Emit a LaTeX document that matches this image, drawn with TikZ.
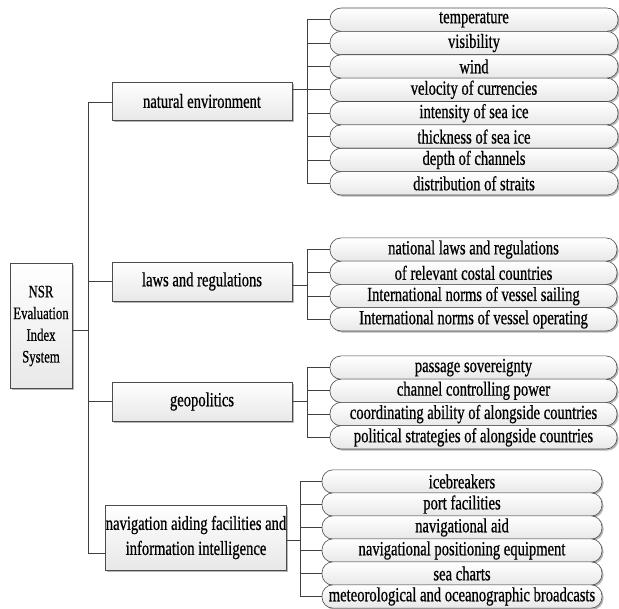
\documentclass[tikz,border=0pt]{standalone}
\usepackage{fontspec}
\setmainfont{Liberation Serif}[FakeStretch=0.73,FakeBold=0.6]
\usetikzlibrary{shadows}
\begin{document}
\begin{tikzpicture}[x=1pt,y=-1pt,
  shade/.style={draw=black!70, line width=0.6pt, top color=white, bottom color=black!9,
    drop shadow={shadow xshift=1.5pt, shadow yshift=-1.6pt, fill=black!40, opacity=0.7}},
  mainbox/.style={shade, inner sep=0pt, align=center, font=\fontsize{20}{25}\selectfont},
  itembox/.style={shade, rounded corners=11pt, inner sep=0pt, align=center,
    minimum height=23.3pt, font=\fontsize{20}{22}\selectfont},
  link/.style={draw=black!75, line width=0.8pt}]
\useasboundingbox (0,0) rectangle (619,609);

% root and level-1 boxes
\node[mainbox, minimum width=62pt, minimum height=125pt, font=\fontsize{17.5}{21.7}\selectfont] (root) at (41,326) {NSR\\Evaluation\\Index\\System};
\node[mainbox, minimum width=180pt, minimum height=38pt] (n1) at (202,101) {natural environment};
\node[mainbox, minimum width=180pt, minimum height=39pt] (n2) at (202,281.5) {laws and regulations};
\node[mainbox, minimum width=180pt, minimum height=39pt] (n3) at (202,401.5) {geopolitics};
\node[mainbox, minimum width=178pt, minimum height=65pt] (n4) at (196,537.5) {navigation aiding facilities and\\information intelligence};

% natural environment items
\foreach \t [count=\i from 0] in {temperature, visibility, wind, velocity of currencies, intensity of sea ice, thickness of sea ice, depth of channels, distribution of straits}
  \node[itembox, minimum width=288pt] (a\i) at (474,{19.7+\i*23.375}) {\t};
% laws items
\foreach \t [count=\i from 0] in {national laws and regulations, of relevant costal countries, International norms of vessel sailing, International norms of vessel operating}
  \node[itembox, minimum width=287pt] (b\i) at (473.5,{249.6+\i*23.25}) {\t};
% geopolitics items
\foreach \t [count=\i from 0] in {passage sovereignty, channel controlling power, coordinating ability of alongside countries, political strategies of alongside countries}
  \node[itembox, minimum width=287pt] (c\i) at (473.5,{367.6+\i*23.25}) {\t};
% navigation items
\foreach \t [count=\i from 0] in {icebreakers, port facilities, navigational aid, navigational positioning equipment, sea charts, meteorological and oceanographic broadcasts}
  \node[itembox, minimum width=280pt] (d\i) at (462,{481.5+\i*23}) {\t};

% trunk
\coordinate (t0) at (88,330);
\coordinate (t1) at (88,102);
\coordinate (t2) at (88,281);
\coordinate (t3) at (88,401);
\coordinate (t4) at (88,553);
\draw[link] (root.east |- t0) -- (t0);
\draw[link] (n1.west |- t1) -- (t1) -- (t4) -- (n4.west |- t4);
\draw[link] (t2) -- (n2.west |- t2);
\draw[link] (t3) -- (n3.west |- t3);

% brackets
\coordinate (j1) at (307,89);
\coordinate (j2) at (307,285);
\coordinate (j3) at (307,401);
\coordinate (j4) at (300,540);
\draw[link] (n1.east |- j1) -- (j1);
\draw[link] (n2.east |- j2) -- (j2);
\draw[link] (n3.east |- j3) -- (j3);
\draw[link] (n4.east |- j4) -- (j4);
\draw[link] (a0.west) -- (a0.west -| j1) -- (a7.west -| j1) -- (a7.west);
\foreach \i in {1,...,6} \draw[link] (a\i.west) -- (a\i.west -| j1);
\draw[link] (b0.west) -- (b0.west -| j2) -- (b3.west -| j2) -- (b3.west);
\foreach \i in {1,2} \draw[link] (b\i.west) -- (b\i.west -| j2);
\draw[link] (c0.west) -- (c0.west -| j3) -- (c3.west -| j3) -- (c3.west);
\foreach \i in {1,2} \draw[link] (c\i.west) -- (c\i.west -| j3);
\draw[link] (d0.west) -- (d0.west -| j4) -- (d5.west -| j4) -- (d5.west);
\foreach \i in {1,...,4} \draw[link] (d\i.west) -- (d\i.west -| j4);
\end{tikzpicture}
\end{document}
